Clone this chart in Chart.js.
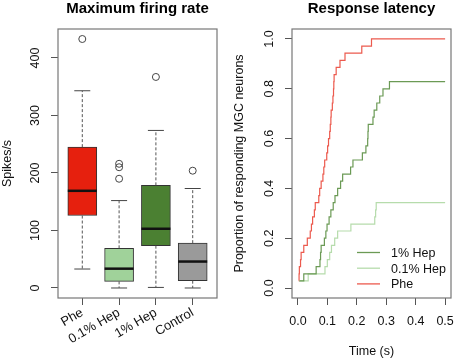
<!DOCTYPE html>
<html>
<head>
<meta charset="utf-8">
<script src="https://cdn.jsdelivr.net/npm/chart.js@4.4.1/dist/chart.umd.min.js"></script>
<style>
  html, body { margin: 0; padding: 0; background: #fff; }
  #wrap { position: relative; width: 454px; height: 359px; }
  .panel { position: absolute; top: 0; width: 227px; height: 359px; }
</style>
</head>
<body>
<div id="wrap">
  <div class="panel" style="left:0"><canvas id="firingChart" width="227" height="359"></canvas></div>
  <div class="panel" style="left:227px"><canvas id="latencyChart" width="227" height="359"></canvas></div>
</div>
<script>
// ---- left panel: maximum firing rate (boxplot) ----
var categories = ['Phe', '0.1% Hep', '1% Hep', 'Control'];
var whiskerLow = [33, 0, 1, 0];
var q1 = [126, 11.5, 73.6, 12.7];
var median = [169, 33.6, 103, 46];
var q3 = [245, 69, 178.5, 78];
var whiskerHigh = [343, 152, 274, 173];
var outlierGroup = [1, 2, 2, 2, 3, 4];
var outlierValue = [433, 216, 210, 190, 367, 204];
var rateTicks = [0, 100, 200, 300, 400];

// ---- right panel: response latency (cumulative proportion) ----
var groupNames = ['1% Hep', '0.1% Hep', 'Phe'];
var hep1Time = [0.005, 0.020, 0.062, 0.075, 0.077, 0.079, 0.090, 0.095, 0.099, 0.106, 0.112, 0.120, 0.126, 0.135, 0.145, 0.152, 0.179, 0.187, 0.219, 0.231, 0.237, 0.238, 0.239, 0.255, 0.259, 0.268, 0.278, 0.289, 0.311, 0.500];
var hep1Prop = [0.029, 0.057, 0.086, 0.114, 0.143, 0.171, 0.200, 0.229, 0.257, 0.286, 0.314, 0.343, 0.371, 0.400, 0.429, 0.457, 0.486, 0.514, 0.543, 0.571, 0.600, 0.629, 0.657, 0.686, 0.714, 0.743, 0.771, 0.800, 0.829, 0.829];
var hep01Time = [0.005, 0.035, 0.092, 0.100, 0.108, 0.114, 0.125, 0.135, 0.180, 0.261, 0.264, 0.266, 0.500];
var hep01Prop = [0.029, 0.057, 0.086, 0.114, 0.143, 0.171, 0.200, 0.229, 0.257, 0.286, 0.314, 0.343, 0.343];
var pheTime = [0.003, 0.004, 0.005, 0.009, 0.011, 0.020, 0.032, 0.042, 0.046, 0.050, 0.056, 0.059, 0.071, 0.074, 0.079, 0.085, 0.088, 0.091, 0.098, 0.101, 0.104, 0.108, 0.110, 0.112, 0.113, 0.117, 0.119, 0.121, 0.122, 0.123, 0.130, 0.143, 0.160, 0.217, 0.250, 0.500];
var pheProp = [0.029, 0.057, 0.086, 0.114, 0.143, 0.171, 0.200, 0.229, 0.257, 0.286, 0.314, 0.343, 0.371, 0.400, 0.429, 0.457, 0.486, 0.514, 0.543, 0.571, 0.600, 0.629, 0.657, 0.686, 0.714, 0.743, 0.771, 0.800, 0.829, 0.857, 0.886, 0.914, 0.943, 0.971, 1.000, 1.000];
var timeTicks = [0, 0.1, 0.2, 0.3, 0.4, 0.5];
var propTicks = [0, 0.2, 0.4, 0.6, 0.8, 1.0];

const boxColors = ['#e6200e', '#a0d29a', '#4b8032', '#9a9a9a'];
const lineColors = ['#6b9a55', '#b6dcac', '#ec5a4e'];
const FONT = "'Liberation Sans', Arial, sans-serif";

Chart.defaults.font.family = FONT;
Chart.defaults.color = '#111';
Chart.defaults.animation = false;

function toPoints(xs, ys) {
    return xs.map((x, i) => ({ x: x, y: ys[i] }));
}

// R style box round the plot region
const framePlugin = {
    id: 'frame',
    beforeDatasetsDraw(chart) {
        const a = chart.chartArea, ctx = chart.ctx;
        ctx.save();
        ctx.strokeStyle = '#777';
        ctx.lineWidth = 1.2;
        ctx.strokeRect(a.left, a.top, a.right - a.left, a.bottom - a.top);
        ctx.restore();
    }
};

// legend sitting inside the lower right of the latency plot
const innerLegend = {
    id: 'innerLegend',
    afterDatasetsDraw(chart) {
        const a = chart.chartArea, ctx = chart.ctx;
        ctx.save();
        ctx.font = '12.5px ' + FONT;
        ctx.textBaseline = 'middle';
        ctx.fillStyle = '#111';
        chart.data.datasets.forEach((ds, i) => {
            const y = a.bottom - 45.5 + i * 15.7;
            ctx.strokeStyle = ds.borderColor;
            ctx.lineWidth = 1.3;
            ctx.beginPath();
            ctx.moveTo(a.left + 65, y);
            ctx.lineTo(a.left + 88, y);
            ctx.stroke();
            ctx.fillText(ds.label, a.left + 99, y + 1);
        });
        ctx.restore();
    }
};

function noPad(s) {
    s.paddingLeft = 0; s.paddingRight = 0; s.paddingTop = 0; s.paddingBottom = 0;
}

// whisker segments, broken by nulls between groups
var whiskerPts = [];
categories.forEach((c, i) => {
    whiskerPts.push({ x: i + 1, y: q3[i] }, { x: i + 1, y: whiskerHigh[i] }, { x: i + 1, y: null });
    whiskerPts.push({ x: i + 1, y: q1[i] }, { x: i + 1, y: whiskerLow[i] }, { x: i + 1, y: null });
});
var capPts = [];
categories.forEach((c, i) => {
    capPts.push({ x: i + 1, y: whiskerHigh[i] }, { x: i + 1, y: whiskerLow[i] });
});

var firingChart = new Chart(document.getElementById('firingChart'), {
    data: {
        datasets: [
            {
                type: 'bar',
                data: categories.map((c, i) => ({ x: i + 1, y: [q1[i], q3[i]] })),
                backgroundColor: boxColors,
                borderColor: '#333',
                borderWidth: 1,
                borderSkipped: false,
                barThickness: 29,
                grouped: false,
                order: 3
            },
            {
                type: 'line',
                data: whiskerPts,
                borderColor: '#555',
                borderWidth: 1,
                borderDash: [3, 2],
                pointRadius: 0,
                spanGaps: false,
                order: 2
            },
            {
                type: 'scatter',
                data: capPts,
                pointStyle: 'line',
                pointRadius: 8,
                pointBorderColor: '#444',
                pointBorderWidth: 1,
                order: 2
            },
            {
                type: 'scatter',
                data: categories.map((c, i) => ({ x: i + 1, y: median[i] })),
                pointStyle: 'line',
                pointRadius: 14.5,
                pointBorderColor: '#111',
                pointBorderWidth: 2.5,
                order: 1
            },
            {
                type: 'scatter',
                data: outlierGroup.map((g, i) => ({ x: g, y: outlierValue[i] })),
                pointStyle: 'circle',
                pointRadius: 3.5,
                pointBorderColor: '#444',
                pointBackgroundColor: 'rgba(0,0,0,0)',
                pointBorderWidth: 1,
                order: 1
            }
        ]
    },
    options: {
        responsive: false,
        layout: { autoPadding: false, padding: { left: 0, right: 10, top: 0, bottom: 0 } },
        plugins: {
            legend: { display: false },
            tooltip: { enabled: false },
            title: {
                display: true,
                text: 'Maximum firing rate',
                fullSize: false,
                color: '#000',
                font: { size: 15, weight: 'bold' },
                padding: { top: 0, bottom: 11 }
            }
        },
        scales: {
            x: {
                type: 'linear',
                offset: false,
                min: 0.34,
                max: 4.66,
                afterBuildTicks: s => { s.ticks = categories.map((c, i) => ({ value: i + 1 })); },
                afterFit: s => { s.height = 61; noPad(s); },
                ticks: {
                    callback: v => categories[v - 1],
                    minRotation: 30,
                    maxRotation: 30,
                    autoSkip: false,
                    padding: 0,
                    color: '#111',
                    font: { size: 13 }
                },
                grid: { offset: false, drawOnChartArea: false, tickLength: 7, color: '#555' },
                border: { display: false }
            },
            y: {
                type: 'linear',
                min: -17.4,
                max: 450.4,
                afterBuildTicks: s => { s.ticks = rateTicks.map(v => ({ value: v })); },
                afterFit: s => { s.width = 58; noPad(s); },
                ticks: {
                    minRotation: 90,
                    maxRotation: 90,
                    crossAlign: 'center',
                    padding: 4.9,
                    color: '#111',
                    font: { size: 12.5 }
                },
                grid: { drawOnChartArea: false, tickLength: 7, color: '#555' },
                border: { display: false },
                title: {
                    display: true,
                    text: 'Spikes/s',
                    color: '#111',
                    font: { size: 12.5 },
                    padding: { top: 0, bottom: 0 }
                }
            }
        }
    },
    plugins: [framePlugin]
});

var latencyChart = new Chart(document.getElementById('latencyChart'), {
    type: 'line',
    data: {
        datasets: [
            { label: groupNames[0], data: toPoints(hep1Time, hep1Prop), borderColor: lineColors[0] },
            { label: groupNames[1], data: toPoints(hep01Time, hep01Prop), borderColor: lineColors[1] },
            { label: groupNames[2], data: toPoints(pheTime, pheProp), borderColor: lineColors[2] }
        ].map(ds => Object.assign(ds, { stepped: true, borderWidth: 1.2, pointRadius: 0, fill: false }))
    },
    options: {
        responsive: false,
        layout: { autoPadding: false, padding: { left: 0, right: 3, top: 0, bottom: 0 } },
        plugins: {
            legend: { display: false },
            tooltip: { enabled: false },
            title: {
                display: true,
                text: 'Response latency',
                fullSize: false,
                color: '#000',
                font: { size: 15, weight: 'bold' },
                padding: { top: 0, bottom: 11 }
            }
        },
        scales: {
            x: {
                type: 'linear',
                min: -0.02,
                max: 0.52,
                afterBuildTicks: s => { s.ticks = timeTicks.map(v => ({ value: v })); },
                afterFit: s => { s.height = 61; noPad(s); },
                ticks: {
                    callback: v => v.toFixed(1),
                    maxRotation: 0,
                    autoSkip: false,
                    padding: 9,
                    color: '#111',
                    font: { size: 12.5 }
                },
                grid: { drawOnChartArea: false, tickLength: 7, color: '#555' },
                border: { display: false },
                title: {
                    display: true,
                    text: 'Time (s)',
                    color: '#111',
                    font: { size: 12.5 },
                    padding: { top: 0, bottom: 0 }
                }
            },
            y: {
                type: 'linear',
                min: -0.04,
                max: 1.04,
                afterBuildTicks: s => { s.ticks = propTicks.map(v => ({ value: v })); },
                afterFit: s => { s.width = 65; noPad(s); },
                ticks: {
                    callback: v => v.toFixed(1),
                    minRotation: 90,
                    maxRotation: 90,
                    crossAlign: 'center',
                    padding: 6.3,
                    color: '#111',
                    font: { size: 12.5 }
                },
                grid: { drawOnChartArea: false, tickLength: 7, color: '#555' },
                border: { display: false },
                title: {
                    display: true,
                    text: 'Proportion of responding MGC neurons',
                    color: '#111',
                    font: { size: 12.5 },
                    padding: { top: 5, bottom: 0 }
                }
            }
        }
    },
    plugins: [framePlugin, innerLegend]
});
</script>
</body>
</html>
